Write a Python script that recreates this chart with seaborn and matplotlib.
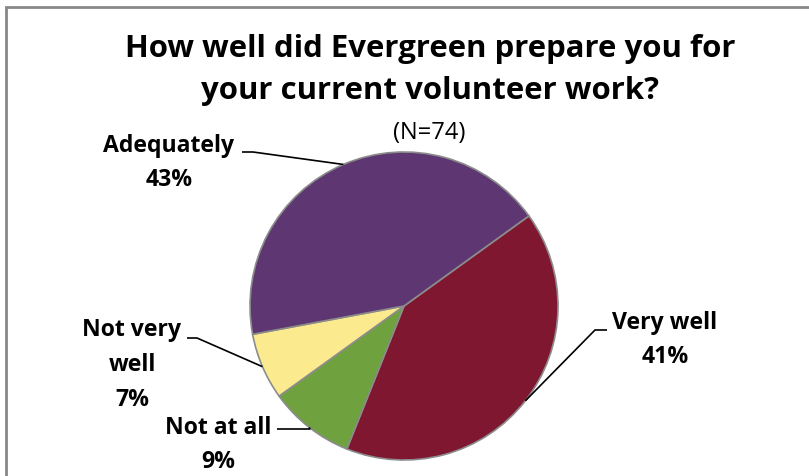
import numpy as np
import matplotlib
matplotlib.use("Agg")
import matplotlib.pyplot as plt
import seaborn as sns

# ---- data ----
categories = ["Very well", "Not at all", "Not very well", "Adequately"]
label_texts = ["Very well", "Not at all", "Not very\nwell", "Adequately"]
values = [41, 9, 7, 43]
colors = ["#7F1730", "#6FA23F", "#FCEA8F", "#5E3772"]
title_text = "How well did Evergreen prepare you for\nyour current volunteer work?"
subtitle_text = "(N=74)"

sns.set_theme(style="white")
plt.rcParams['font.family'] = ['Open Sans', 'DejaVu Sans']

W, H = 809, 476
fig = plt.figure(figsize=(W / 100, H / 100), dpi=100)
ax = fig.add_axes([0, 0, 1, 1])

def Y(y):
    return H - y

cx, cy, r = 404, Y(306), 154
wedges, _ = ax.pie(values, colors=sns.color_palette(colors), startangle=35.8,
                   counterclock=False, center=(cx, cy), radius=r,
                   wedgeprops=dict(edgecolor="#8C8C8C", linewidth=1.2))
ax.set_xlim(0, W)
ax.set_ylim(0, H)
ax.set_aspect('equal')
ax.axis('off')

# label layout
layout = {
    "Very well": dict(tx=665, ty=340, pts=[(607, 330), (595, 330)]),
    "Not at all": dict(tx=218, ty=445, pts=[(277, 429), (310, 429)]),
    "Not very well": dict(tx=132, ty=365, pts=[(187, 338), (197, 338)]),
    "Adequately": dict(tx=169, ty=163, pts=[(242, 152), (253, 152)]),
}

for w, cat, txt, v in zip(wedges, categories, label_texts, values):
    mid = np.deg2rad((w.theta1 + w.theta2) / 2)
    ex, ey = cx + r * np.cos(mid), cy + r * np.sin(mid)
    L = layout[cat]
    pts = [(p[0], Y(p[1])) for p in L["pts"]]
    xs = [pts[0][0], pts[1][0], ex]
    ys = [pts[0][1], pts[1][1], ey]
    ax.plot(xs, ys, color="black", lw=1.2, solid_capstyle='butt')
    ax.text(L["tx"], Y(L["ty"]), f"{txt}\n{v}%", ha='center', va='center',
            fontsize=16.6, fontweight='bold', color='black', linespacing=1.6)

ax.text(430, Y(70), title_text, ha='center', va='center', fontsize=22.4,
        fontweight='bold', color='black', linespacing=1.49)
ax.text(429, Y(133), subtitle_text, ha='center', va='center', fontsize=17,
        color='black')

# chart border (top and left visible)
ax.plot([6, 6, W + 5], [-5, Y(7), Y(7)], color="#888888", lw=2,
        solid_joinstyle='miter', clip_on=False)

fig.savefig("out.png", dpi=100, facecolor='white')
